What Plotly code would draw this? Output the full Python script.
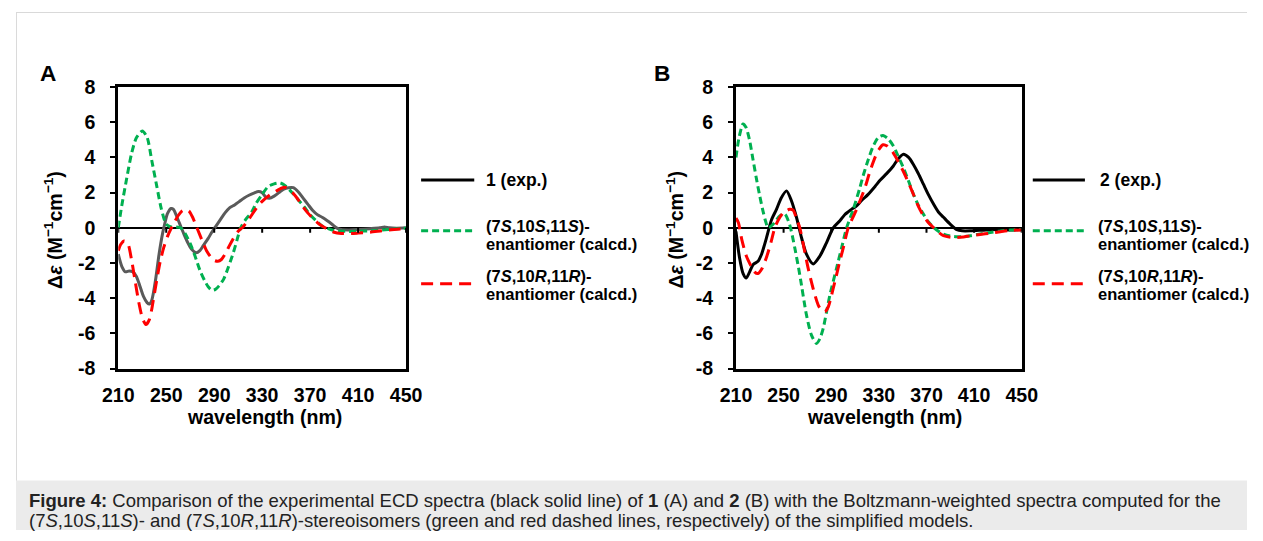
import plotly.graph_objects as go

W, H = 1263, 541
FONT = "Liberation Sans, Arial, Helvetica, sans-serif"

# ---------------- Panel A (compound 1) ----------------
a_exp_wl = [210, 213, 216, 219, 222, 225, 228, 231, 234, 236, 238, 241, 244, 247, 249, 251, 254, 256,
            259, 262, 265, 268, 271, 275, 278, 281, 285, 288, 291, 295, 299, 303, 307, 311, 315, 319,
            323, 327, 330, 333, 336, 340, 344, 348, 352, 356, 360, 364, 368, 372, 376, 380, 384, 388,
            392, 396, 402, 410, 420, 428, 432, 436, 442, 450]
a_exp = [-1.5, -2.2, -2.5, -2.45, -2.5, -2.75, -3.3, -3.9, -4.25, -4.33, -4.1, -3.0, -1.5, -0.3, 0.3,
         0.8, 1.1, 1.05, 0.6, 0.1, -0.4, -0.85, -1.2, -1.42, -1.3, -1.0, -0.6, -0.25, 0.05, 0.45, 0.85,
         1.15, 1.3, 1.5, 1.7, 1.85, 1.97, 2.06, 2.0, 1.75, 1.68, 1.8, 2.0, 2.2, 2.28, 2.28, 2.05, 1.7,
         1.35, 1.0, 0.75, 0.6, 0.42, 0.22, 0.0, -0.1, -0.12, -0.1, -0.05, 0.0, 0.05, 0.0, -0.02, 0.0]

a_sss_wl = [210, 213, 217, 221, 225, 230, 234, 238, 242, 246, 250, 254, 258, 262, 266, 270, 274, 278,
            282, 285, 288, 291, 294, 298, 302, 306, 309, 312, 316, 321, 325, 330, 335, 340, 345, 350,
            355, 360, 365, 370, 375, 380, 385, 390, 400, 410, 420, 430, 440, 450]
a_sss = [0.0, 1.3, 2.8, 4.2, 5.1, 5.5, 5.15, 3.8, 2.4, 1.05, 0.2, 0.05, 0.05, 0.0, -0.35, -0.9, -1.6,
         -2.4, -3.0, -3.35, -3.55, -3.5, -3.3, -2.9, -2.2, -1.4, -0.7, 0.0, 0.45, 0.87, 1.4, 1.9, 2.35,
         2.5, 2.55, 2.35, 2.0, 1.6, 1.2, 0.75, 0.4, 0.1, -0.05, -0.15, -0.2, -0.2, -0.17, -0.13, -0.07,
         -0.02]

a_srr_wl = [210, 212, 215, 218, 221, 224, 227, 230, 233, 236, 239, 242, 245, 248, 251, 254, 257, 260,
            263, 266, 269, 272, 275, 278, 281, 284, 287, 290, 293, 296, 299, 302, 306, 310, 314, 318,
            322, 326, 330, 334, 338, 342, 346, 349, 352, 356, 360, 364, 368, 372, 376, 380, 384, 390,
            396, 402, 410, 420, 430, 440, 450]
a_srr = [-1.3, -0.95, -0.75, -0.9, -1.8, -3.0, -4.2, -5.1, -5.5, -5.2, -4.2, -3.0, -1.9, -1.1, -0.5,
         -0.05, 0.35, 0.7, 0.95, 1.05, 0.95, 0.6, 0.1, -0.4, -0.9, -1.35, -1.65, -1.85, -1.9, -1.8, -1.5,
         -1.1, -0.6, -0.2, 0.05, 0.4, 0.8, 1.2, 1.5, 1.75, 1.95, 2.1, 2.25, 2.3, 2.2, 1.95, 1.6, 1.2,
         0.85, 0.55, 0.3, 0.1, -0.05, -0.25, -0.32, -0.33, -0.3, -0.25, -0.17, -0.1, -0.03]

# ---------------- Panel B (compound 2) ----------------
b_exp_wl = [210, 213, 216, 218.7, 221.5, 224.5, 228.5, 231.5, 235.5, 239.8, 244, 248, 252.5, 256.5,
            260.8, 265, 269.2, 274.8, 280.5, 286, 291.7, 297.3, 301.5, 307, 311.3, 315.5, 321, 326.8,
            331, 336.5, 342, 346, 350.6, 355, 359, 363, 367.4, 371.5, 375.9, 380, 384.3, 389.9, 395.5,
            400, 407, 420, 430, 440, 450]
b_exp = [-0.2, -1.7, -2.6, -2.85, -2.5, -2.08, -1.9, -1.5, -0.6, 0.45, 1.05, 1.7, 2.1, 1.55, 0.6,
         -0.55, -1.5, -2.05, -1.6, -0.85, 0.0, 0.4, 0.76, 1.05, 1.25, 1.55, 1.9, 2.35, 2.7, 3.08, 3.5,
         3.9, 4.18, 4.0, 3.6, 3.1, 2.48, 1.9, 1.35, 0.9, 0.6, 0.21, -0.1, -0.17, -0.17, -0.12, -0.1,
         -0.12, -0.1]

b_sss_wl = [210, 212.5, 215.9, 218.5, 221.5, 224, 227, 230, 232.7, 235, 237, 241, 246.8, 251, 255,
            259.4, 263.6, 269.2, 273.4, 277.6, 280.5, 283.3, 286, 288.9, 294.5, 298.7, 302.9, 308.5,
            314.1, 317, 321.2, 325, 329.6, 333.5, 338, 342.2, 346, 350.6, 355, 359, 363, 367.4, 371.5,
            375.9, 380, 384.3, 390, 395.5, 401, 406.8, 415, 423.6, 432, 440.4, 450]
b_sss = [4.0, 5.1, 5.9, 5.7, 4.95, 4.0, 2.86, 1.8, 0.95, 0.35, 0.0, 0.19, 0.67, 0.78, 0.2, -1.14,
         -2.67, -4.95, -6.1, -6.57, -6.3, -5.71, -4.8, -3.81, -2.29, -1.14, 0.0, 1.05, 2.29, 3.0, 3.9,
         4.6, 5.14, 5.25, 5.05, 4.65, 4.1, 3.42, 2.65, 1.91, 1.3, 0.78, 0.35, 0.02, -0.2, -0.36, -0.47,
         -0.51, -0.5, -0.45, -0.35, -0.26, -0.18, -0.13, -0.1]

b_srr_wl = [210, 212, 215, 218.7, 222.9, 225.5, 228.5, 232, 236, 239.5, 242.6, 246, 249.6, 252, 255,
            258, 260.5, 263.6, 267, 270.6, 275, 279, 282, 284.7, 287.5, 290, 293.1, 296.5, 300.1,
            304.3, 311.3, 318.4, 322.5, 326.8, 330, 333.5, 337, 342.2, 346, 350.6, 355, 359, 363, 367.4,
            371.5, 375.9, 380, 384.3, 390, 395.5, 401, 406.8, 415, 423.6, 432, 440.4, 450]
b_srr = [0.55, 0.3, -0.7, -1.6, -2.2, -2.5, -2.6, -2.3, -1.6, -0.8, 0.0, 0.5, 0.85, 0.95, 1.05, 1.0,
         0.6, 0.0, -1.1, -2.29, -3.5, -4.38, -4.7, -4.76, -4.5, -3.9, -3.05, -2.1, -1.14, 0.0, 1.05,
         2.29, 3.2, 4.0, 4.45, 4.72, 4.65, 4.25, 3.8, 3.2, 2.55, 1.91, 1.25, 0.68, 0.3, 0.02, -0.25,
         -0.45, -0.53, -0.55, -0.52, -0.45, -0.38, -0.3, -0.22, -0.15, -0.12]

# ---------------- Axis ticks and texts ----------------
x_tickvals = [210, 250, 290, 330, 370, 410, 450]
x_ticktext = ["210", "250", "290", "330", "370", "410", "450"]
y_tickvals = [-8, -6, -4, -2, 0, 2, 4, 6, 8]
y_ticktext = ["-8", "-6", "-4", "-2", "0", "2", "4", "6", "8"]

x_title = "wavelength (nm)"
y_title = "Δ<i>ε</i> (M<sup>−1</sup>cm<sup>−1</sup>)"
panel_labels = ["A", "B"]
exp_labels = ["1 (exp.)", "2 (exp.)"]
sss_label = ["(7<i>S</i>,10<i>S</i>,11<i>S</i>)-", "enantiomer (calcd.)"]
srr_label = ["(7<i>S</i>,10<i>R</i>,11<i>R</i>)-", "enantiomer (calcd.)"]
caption_1 = ("<b>Figure 4:</b> Comparison of the experimental ECD spectra (black solid line) of <b>1</b> (A) "
             "and <b>2</b> (B) with the Boltzmann-weighted spectra computed for the")
caption_2 = ("(7<i>S</i>,10<i>S</i>,11<i>S</i>)- and (7<i>S</i>,10<i>R</i>,11<i>R</i>)-stereoisomers "
             "(green and red dashed lines, respectively) of the simplified models.")

GREEN = "#00B050"
RED = "#FF0000"
GRAY = "#5a5a5a"
BLACK = "#000000"
GREEN_DASH = "7px,4px"
RED_DASH = "12px,7px"

# The photographed page comes out slightly shrunk about its centre; the layout positions
# below (given in target picture pixels) are mapped back to page pixels to compensate.
SX, AX = 0.972, 15.0
SY, AY = 0.961, 9.8
FS = 1.03


def fx(px):
    return min(1.0, max(0.0, ((px - AX) / SX) / W))


def fy(py):
    return min(1.0, max(0.0, 1 - ((py - AY) / SY) / H))


fig = go.Figure()

spl = dict(shape="spline", smoothing=0.7)
series = [
    ("x", "y", a_exp_wl, a_exp, GRAY, None),
    ("x", "y", a_sss_wl, a_sss, GREEN, GREEN_DASH),
    ("x", "y", a_srr_wl, a_srr, RED, RED_DASH),
    ("x2", "y2", b_exp_wl, b_exp, BLACK, None),
    ("x2", "y2", b_sss_wl, b_sss, GREEN, GREEN_DASH),
    ("x2", "y2", b_srr_wl, b_srr, RED, RED_DASH),
]
for xa, ya, xs, ys, col, dash in series:
    line = dict(color=col, width=3, **spl)
    if dash:
        line["dash"] = dash
    fig.add_trace(go.Scatter(x=xs, y=ys, mode="lines", line=line, xaxis=xa, yaxis=ya,
                             showlegend=False, hoverinfo="skip"))

tickfont = dict(family=FONT, size=19 * FS, color="black", weight="bold")
plot_top, plot_bot = 86, 368
panels = [(117, 404), (733, 1018)]

common_x = dict(range=[210, 450], showline=True, mirror=True, linewidth=3, linecolor="black",
                ticks="", tickvals=x_tickvals, ticktext=x_ticktext, tickfont=tickfont,
                showgrid=False, zeroline=False, ticklabelstandoff=7, fixedrange=True)
common_y = dict(range=[-8, 8], showline=True, mirror=True, linewidth=3, linecolor="black",
                ticks="outside", ticklen=5, tickwidth=2, tickcolor="black",
                tickvals=y_tickvals, ticktext=y_ticktext, tickfont=tickfont,
                showgrid=False, zeroline=True, zerolinecolor="black", zerolinewidth=2,
                ticklabelstandoff=11, domain=[fy(plot_bot), fy(plot_top)], fixedrange=True)

fig.update_layout(
    width=W, height=H, autosize=False,
    margin=dict(l=0, r=0, t=0, b=0, pad=0),
    paper_bgcolor="white", plot_bgcolor="white",
    font=dict(family=FONT, color="black"),
    xaxis=dict(common_x, domain=[fx(panels[0][0]), fx(panels[0][1])], anchor="y"),
    yaxis=dict(common_y, anchor="x"),
    xaxis2=dict(common_x, domain=[fx(panels[1][0]), fx(panels[1][1])], anchor="y2"),
    yaxis2=dict(common_y, anchor="x2"),
    showlegend=False,
    hovermode=False,
)

shapes = []
annotations = []

# outer figure frame (1px light grey) and caption band
shapes.append(dict(type="rect", xref="paper", yref="paper", x0=0, x1=1, y0=0, y1=1 - 1 / H,
                   line=dict(width=0), fillcolor="#d9d9d9", layer="below"))
shapes.append(dict(type="rect", xref="paper", yref="paper", x0=1 / W, x1=1, y0=0, y1=1 - 2 / H,
                   line=dict(width=0), fillcolor="white", layer="below"))
shapes.append(dict(type="rect", xref="paper", yref="paper", x0=0, x1=1, y0=0, y1=fy(480),
                   line=dict(width=0), fillcolor="#ebebeb", layer="below"))

# short downward tick marks on the zero line (x axis crossing at 0)
for xa, ya in [("x", "y"), ("x2", "y2")]:
    for v in x_tickvals:
        shapes.append(dict(type="line", xref=xa, yref=ya, x0=v, x1=v, ysizemode="pixel", yanchor=0,
                           y0=0, y1=-5, line=dict(color="black", width=2)))

legend_x = [(419, 472, 482, 482), (1029, 1081, 1094, 1092)]
for i, (l0, l1, tx_exp, tx) in enumerate(legend_x):
    shapes.append(dict(type="line", xref="paper", yref="paper", x0=fx(l0), x1=fx(l1), y0=fy(179), y1=fy(179),
                       line=dict(color=BLACK, width=3)))
    shapes.append(dict(type="line", xref="paper", yref="paper", x0=fx(l0), x1=fx(l1), y0=fy(230), y1=fy(230),
                       line=dict(color=GREEN, width=3, dash=GREEN_DASH)))
    shapes.append(dict(type="line", xref="paper", yref="paper", x0=fx(l0), x1=fx(l1), y0=fy(283), y1=fy(283),
                       line=dict(color=RED, width=3, dash=RED_DASH)))
    legfont = dict(family=FONT, size=16.5, color="black", weight="bold")
    annotations.append(dict(text=exp_labels[i], x=fx(tx_exp), y=fy(179), xref="paper", yref="paper",
                            xanchor="left", yanchor="middle", showarrow=False,
                            font=dict(family=FONT, size=17.5, color="black", weight="bold")))
    for txt, py in [(sss_label[0], 225), (sss_label[1], 243), (srr_label[0], 275), (srr_label[1], 293)]:
        annotations.append(dict(text=txt, x=fx(tx), y=fy(py), xref="paper", yref="paper",
                                xanchor="left", yanchor="middle", showarrow=False, font=legfont))

# axis titles and panel labels
titlefont = dict(family=FONT, size=19 * FS, color="black", weight="bold")
title_x = [263, 881]
ytitle_x = [52, 672]
label_x = [47, 659]
for i in range(2):
    annotations.append(dict(text=x_title, x=fx(title_x[i]), y=fy(417), xref="paper", yref="paper",
                            xanchor="center", yanchor="middle", showarrow=False, font=titlefont))
    annotations.append(dict(text=y_title, x=fx(ytitle_x[i]), y=fy(229), xref="paper", yref="paper",
                            xanchor="center", yanchor="middle", showarrow=False, textangle=-90, font=titlefont))
    annotations.append(dict(text=panel_labels[i], x=fx(label_x[i]), y=fy(72), xref="paper", yref="paper",
                            xanchor="center", yanchor="middle", showarrow=False,
                            font=dict(family=FONT, size=22 * FS, color="black", weight="bold")))

capfont = dict(family=FONT, size=18.5, color="#222222")
annotations.append(dict(text=caption_1, x=fx(26), y=1 - 510 / H, xref="paper", yref="paper",
                        xanchor="left", yanchor="middle", showarrow=False, font=capfont))
annotations.append(dict(text=caption_2, x=fx(26), y=1 - 531 / H, xref="paper", yref="paper",
                        xanchor="left", yanchor="middle", showarrow=False, font=capfont))

fig.update_layout(shapes=shapes, annotations=annotations)
fig.write_html(
    "out.html",
    config={"displayModeBar": False},
    post_script=("document.documentElement.style.margin='0';document.body.style.margin='0';"
                 "document.body.style.padding='0';document.documentElement.style.overflow='hidden';"
                 "document.body.style.overflow='hidden';"),
)
